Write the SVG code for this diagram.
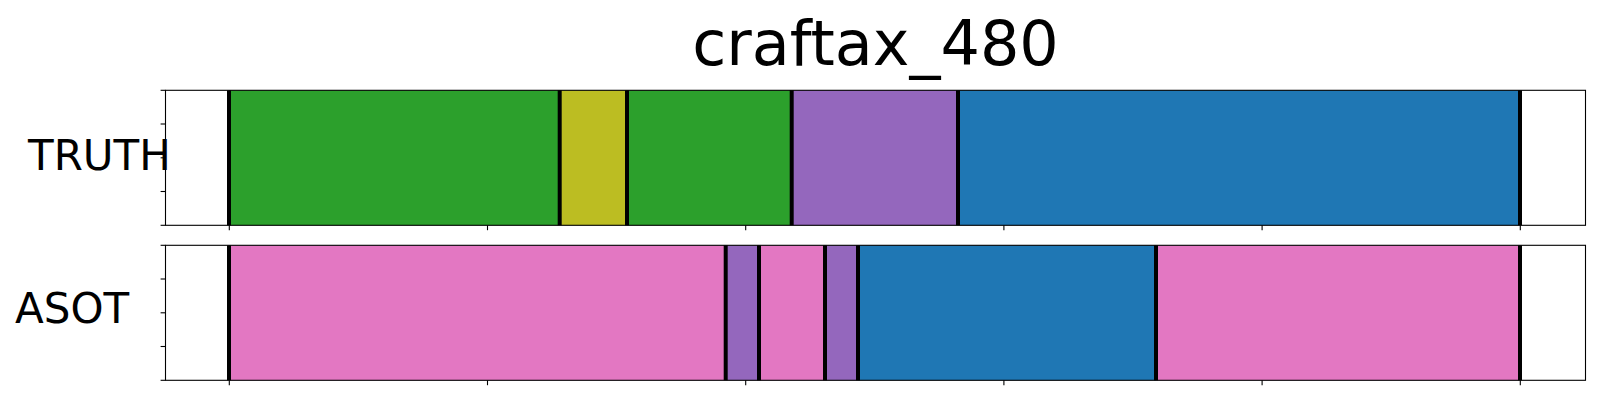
<svg xmlns="http://www.w3.org/2000/svg" width="1600" height="400" viewBox="0 0 1600 400">
<style>
.lbl{font-family:"DejaVu Sans",sans-serif;fill:#000}
.spine{fill:none;stroke:#000;stroke-width:1.1}
.tick{stroke:#000;stroke-width:1.1}
.bnd{stroke:#000;stroke-width:4}
.g{fill:#2ca02c}.o{fill:#bcbd22}.p{fill:#9467bd}.b{fill:#1f77b4}.k{fill:#e377c2}
</style>
<rect width="1600" height="400" fill="#fff"/>
<text class="lbl" x="875.5" y="65" font-size="62" text-anchor="middle">craftax_480</text>
<g id="truth">
<rect class="g" x="229" y="90.3" width="330.7" height="135"/>
<rect class="o" x="559.7" y="90.3" width="67.3" height="135"/>
<rect class="g" x="627" y="90.3" width="164.7" height="135"/>
<rect class="p" x="791.7" y="90.3" width="166.3" height="135"/>
<rect class="b" x="958" y="90.3" width="562" height="135"/>
<g class="bnd">
<line x1="229" y1="90.3" x2="229" y2="225.3"/>
<line x1="559.7" y1="90.3" x2="559.7" y2="225.3"/>
<line x1="627" y1="90.3" x2="627" y2="225.3"/>
<line x1="791.7" y1="90.3" x2="791.7" y2="225.3"/>
<line x1="958" y1="90.3" x2="958" y2="225.3"/>
<line x1="1520" y1="90.3" x2="1520" y2="225.3"/>
</g>
<rect class="spine" x="165.5" y="90.3" width="1420" height="135"/>
<g class="tick">
<line x1="160.6" y1="90.3" x2="165.5" y2="90.3"/>
<line x1="160.6" y1="124" x2="165.5" y2="124"/>
<line x1="160.6" y1="157.8" x2="165.5" y2="157.8"/>
<line x1="160.6" y1="191.5" x2="165.5" y2="191.5"/>
<line x1="160.6" y1="225.3" x2="165.5" y2="225.3"/>
<line x1="229.3" y1="225.3" x2="229.3" y2="230.2"/>
<line x1="487.5" y1="225.3" x2="487.5" y2="230.2"/>
<line x1="745.7" y1="225.3" x2="745.7" y2="230.2"/>
<line x1="1003.9" y1="225.3" x2="1003.9" y2="230.2"/>
<line x1="1262.1" y1="225.3" x2="1262.1" y2="230.2"/>
<line x1="1520.3" y1="225.3" x2="1520.3" y2="230.2"/>
</g>
<text class="lbl" x="28" y="170" font-size="42">TRUTH</text>
</g>
<g id="asot">
<rect class="k" x="229" y="245.3" width="496.7" height="135"/>
<rect class="p" x="725.7" y="245.3" width="33.3" height="135"/>
<rect class="k" x="759" y="245.3" width="66" height="135"/>
<rect class="p" x="825" y="245.3" width="33" height="135"/>
<rect class="b" x="858" y="245.3" width="298" height="135"/>
<rect class="k" x="1156" y="245.3" width="364" height="135"/>
<g class="bnd">
<line x1="229" y1="245.3" x2="229" y2="380.3"/>
<line x1="725.7" y1="245.3" x2="725.7" y2="380.3"/>
<line x1="759" y1="245.3" x2="759" y2="380.3"/>
<line x1="825" y1="245.3" x2="825" y2="380.3"/>
<line x1="858" y1="245.3" x2="858" y2="380.3"/>
<line x1="1156" y1="245.3" x2="1156" y2="380.3"/>
<line x1="1520" y1="245.3" x2="1520" y2="380.3"/>
</g>
<rect class="spine" x="165.5" y="245.3" width="1420" height="135"/>
<g class="tick">
<line x1="160.6" y1="245.3" x2="165.5" y2="245.3"/>
<line x1="160.6" y1="279" x2="165.5" y2="279"/>
<line x1="160.6" y1="312.8" x2="165.5" y2="312.8"/>
<line x1="160.6" y1="346.5" x2="165.5" y2="346.5"/>
<line x1="160.6" y1="380.3" x2="165.5" y2="380.3"/>
<line x1="229.3" y1="380.3" x2="229.3" y2="385.2"/>
<line x1="487.5" y1="380.3" x2="487.5" y2="385.2"/>
<line x1="745.7" y1="380.3" x2="745.7" y2="385.2"/>
<line x1="1003.9" y1="380.3" x2="1003.9" y2="385.2"/>
<line x1="1262.1" y1="380.3" x2="1262.1" y2="385.2"/>
<line x1="1520.3" y1="380.3" x2="1520.3" y2="385.2"/>
</g>
<text class="lbl" x="15" y="323.3" font-size="42">ASOT</text>
</g>
<g id="connectors"/>
</svg>
